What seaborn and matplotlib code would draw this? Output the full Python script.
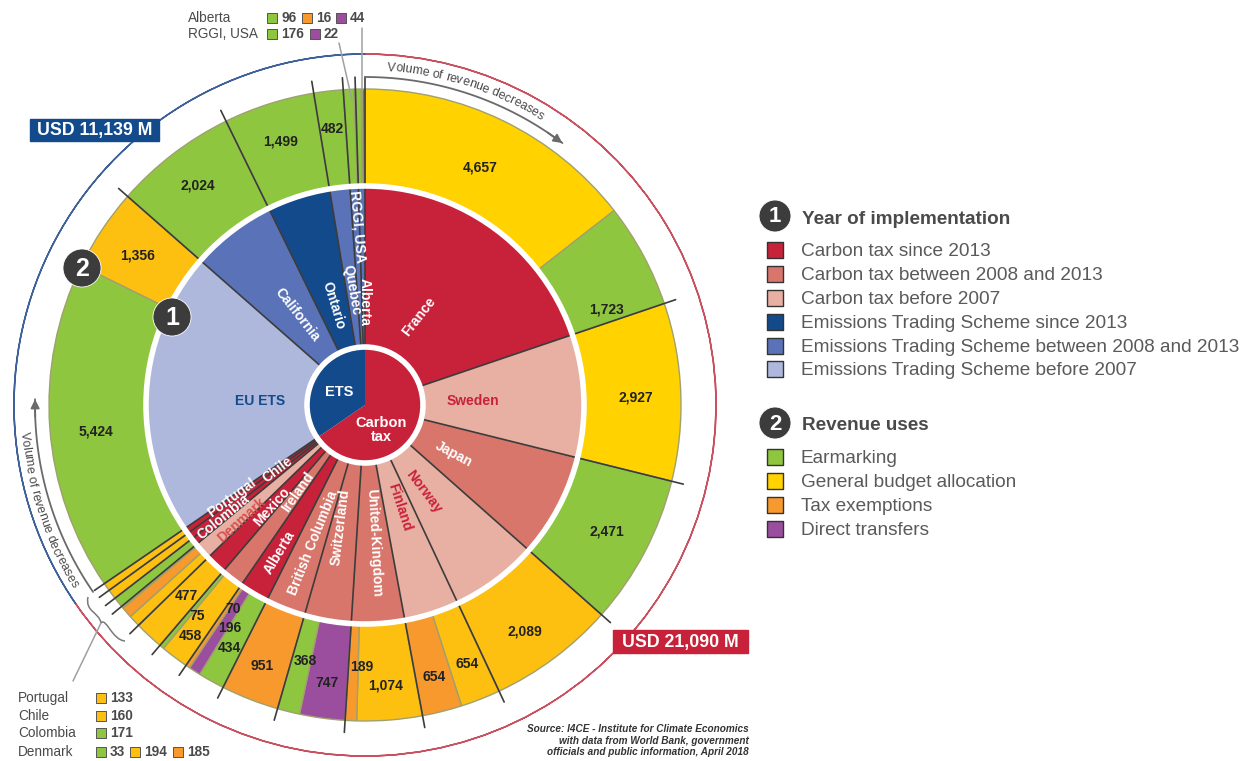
import numpy as np
import pandas as pd
import matplotlib
matplotlib.use('Agg')
import matplotlib.pyplot as plt
from matplotlib.font_manager import FontProperties
from matplotlib.patches import PathPatch, Rectangle
from matplotlib.path import Path
import seaborn as sns

# schemes, clockwise from the top of the circle
scheme_names = ['France', 'Sweden', 'Japan', 'Norway', 'Finland', 'United-Kingdom', 'Switzerland',
                'British Columbia', 'Alberta', 'Ireland', 'Mexico', 'Denmark', 'Colombia', 'Chile', 'Portugal',
                'EU ETS', 'California', 'Ontario', 'Quebec', 'RGGI, USA', 'Alberta']
scheme_years = ['tax13', 'tax07', 'tax08', 'tax07', 'tax07', 'tax08', 'tax08',
                'tax08', 'tax13', 'tax08', 'tax13', 'tax07', 'tax13', 'tax13', 'tax13',
                'ets07', 'ets08', 'ets13', 'ets08', 'ets08', 'ets08']
scheme_revenues = [[4657, 1723], [2927], [2471], [2089], [654, 654], [1074, 189], [747, 368],
                   [951], [434, 196, 70], [458, 75], [477], [194, 185, 33], [171], [160], [133],
                   [5424, 1356], [2024], [1499], [482], [176, 22], [96, 16, 44]]
scheme_uses = [['gold', 'earmark'], ['gold'], ['earmark'], ['budget'], ['budget', 'exempt'], ['budget', 'exempt'],
               ['transfer', 'earmark'], ['exempt'], ['earmark', 'transfer', 'exempt'], ['budget', 'earmark'],
               ['budget'], ['budget', 'exempt', 'earmark'], ['earmark'], ['budget'], ['budget'],
               ['earmark', 'budget'], ['earmark'], ['earmark'], ['earmark'], ['earmark', 'transfer'],
               ['earmark', 'exempt', 'transfer']]
totals_names = ['Carbon tax', 'ETS']
totals_values = [21090, 11139]

year_legend = ['Carbon tax since 2013', 'Carbon tax between 2008 and 2013', 'Carbon tax before 2007',
               'Emissions Trading Scheme since 2013', 'Emissions Trading Scheme between 2008 and 2013',
               'Emissions Trading Scheme before 2007']
use_legend = ['Earmarking', 'General budget allocation', 'Tax exemptions', 'Direct transfers']

year_colors = {'tax13': '#C8213A', 'tax08': '#D8766B', 'tax07': '#E8AFA3',
               'ets13': '#124A8C', 'ets08': '#5A72B8', 'ets07': '#AEB8DC'}
use_colors = {'earmark': '#8FC63F', 'gold': '#FFD200', 'budget': '#FDC010',
              'exempt': '#F7992D', 'transfer': '#9B4E9E'}

# text placement, in image pixels
inner_x = [419, 473, 454, 424, 400, 374, 340, 313, 280, 298, 272, 242, 223, 278, 232, 260, 297, 333, 352, 358, 365]
inner_y = [317, 401, 454, 492, 507, 543, 527, 543, 552, 492, 507, 520, 517, 470, 498, 401, 315, 305, 290, 227, 302]
inner_rot = [52, 0, -28, -53, -72, -87, 83, 68, 59, 55, 48, 42, 39, 37, 36, 0, -52, -73, -80, -85, -90]
inner_color = ['white', '#C8213A', 'white', '#C8213A', '#C8213A', 'white', 'white', 'white', 'white', 'white',
               'white', '#D8504F', 'white', 'white', 'white', '#124A8C', 'white', 'white', 'white', 'white', 'white']

value_labels = ['4,657', '1,723', '2,927', '2,471', '2,089', '654', '654', '1,074', '189', '747', '368', '951',
                '434', '196', '70', '458', '75', '477', '5,424', '1,356', '2,024', '1,499', '482']
value_x = [480, 606, 636, 607, 525, 467, 434, 386, 362, 327, 305, 262, 229, 230, 233, 190, 197, 186, 96, 138, 198, 281, 332]
value_y = [168, 309, 397, 531, 632, 664, 677, 685, 667, 683, 661, 666, 648, 628, 609, 636, 616, 596, 431, 255, 186, 141, 129]

sns.set_theme(style='white')
plt.rcParams['font.family'] = ['Liberation Sans', 'DejaVu Sans']

cx, cy = 365, 405
r_out, r_mid, r_hub = 316, 219, 58
ink = '#4A4A4A'

fig = plt.figure(figsize=(12.56, 7.61), dpi=100)
ax = fig.add_axes([0, 0, 1, 1])

flat_values = [v for group in scheme_revenues for v in group]
flat_uses = [u for group in scheme_uses for u in group]
scheme_totals = [sum(group) for group in scheme_revenues]
grand_total = sum(scheme_totals)

# y axis is flipped below, so counterclock=True comes out clockwise on screen
pie_args = dict(center=(cx, cy), startangle=-90, counterclock=True, frame=True)
ax.pie(flat_values, radius=r_out, colors=[use_colors[u] for u in flat_uses],
       wedgeprops=dict(width=r_out - r_mid, edgecolor='#A0A070', linewidth=1), **pie_args)
ax.pie(scheme_totals, radius=r_mid, colors=[year_colors[y] for y in scheme_years],
       wedgeprops=dict(width=r_mid - r_hub, edgecolor='none'), **pie_args)

# dark lines between schemes, running past the outer edge of the ring
edges = np.radians(np.cumsum([0] + scheme_totals[:-1]) / grand_total * 360)
for a in edges:
    ax.plot([cx + r_hub * np.sin(a), cx + 328 * np.sin(a)], [cy - r_hub * np.cos(a), cy - 328 * np.cos(a)],
            color='#3C3C3C', lw=1.2, zorder=3)

ax.pie([1], radius=r_mid, colors=['none'], wedgeprops=dict(edgecolor='white', linewidth=4, zorder=4), **pie_args)
ax.pie(totals_values, radius=r_hub, colors=['#C8213A', '#124A8C'],
       wedgeprops=dict(edgecolor='none', zorder=5), **pie_args)
ax.pie([1], radius=r_hub, colors=['none'], wedgeprops=dict(edgecolor='white', linewidth=4, zorder=6), **pie_args)

# thin circle around everything, red for the tax and blue for ETS
arcs, _ = ax.pie(totals_values, radius=351, colors=['none', 'none'],
                 wedgeprops=dict(width=0.01, linewidth=1.1), **pie_args)
arcs[0].set_edgecolor('#C8505F')
arcs[1].set_edgecolor('#3F6199')

for name, x, y, rot, col in zip(scheme_names, inner_x, inner_y, inner_rot, inner_color):
    ax.text(x, y, name, rotation=rot, color=col, fontsize=10, fontweight='bold', ha='center', va='center',
            rotation_mode='anchor', zorder=7)
for lab, x, y in zip(value_labels, value_x, value_y):
    ax.text(x, y, lab, color='#222222', fontsize=10, fontweight='bold', ha='center', va='center', zorder=7)

ax.text(339, 392, 'ETS', color='white', fontsize=10.5, fontweight='bold', ha='center', va='center', zorder=7)
ax.text(381, 430, 'Carbon\ntax', color='white', fontsize=10.5, fontweight='bold', ha='center', va='center',
        linespacing=1.0, zorder=7)

# totals tags
ax.add_patch(Rectangle((30, 119), 129, 22, color='#124A8C', zorder=8))
ax.text(94.5, 131, 'USD 11,139 M', color='white', fontsize=12.8, fontweight='bold', ha='center', va='center', zorder=9)
ax.add_patch(Rectangle((613, 630), 135, 23, color='#C8213A', zorder=8))
ax.text(680.5, 642.5, 'USD 21,090 M', color='white', fontsize=12.8, fontweight='bold', ha='center', va='center', zorder=9)


def curved_text(text, r, start, sign, size):
    # one glyph at a time along the circle, sign=1 reads clockwise
    prop = FontProperties(family='Liberation Sans', size=size)
    rend = fig.canvas.get_renderer()
    for i, ch in enumerate(text):
        w0 = rend.get_text_width_height_descent(text[:i], prop, False)[0] if i else 0
        w1 = rend.get_text_width_height_descent(ch, prop, False)[0]
        theta = start + sign * np.degrees((w0 + w1 / 2) / r)
        a = np.radians(theta)
        rot = -theta if sign > 0 else 180 - theta
        ax.text(cx + r * np.sin(a), cy - r * np.cos(a), ch, rotation=rot, color=ink, fontproperties=prop,
                ha='center', va='center', rotation_mode='anchor', zorder=7)


def arc_arrow(r, t0, t1):
    a = np.radians(np.linspace(t0, t1, 60))
    xs, ys = cx + r * np.sin(a), cy - r * np.cos(a)
    ax.plot(xs, ys, color='#6A6A6A', lw=1.3, zorder=3)
    ax.annotate('', xy=(xs[-1], ys[-1]), xytext=(xs[-6], ys[-6]),
                arrowprops=dict(arrowstyle='-|>', color='#6A6A6A', lw=1.3, mutation_scale=13, shrinkA=0, shrinkB=0))


curved_text('Volume of revenue decreases', 338, 3.8, 1, 8.9)
arc_arrow(328, 0, 37)
curved_text('Volume of revenue decreases', 342, 265.5, -1, 8.9)
arc_arrow(330, 235.5, 271)

# brace and leader for the four smallest schemes
brace = Path([(88, 597), (85, 612), (99, 612), (101, 623), (106, 617), (112, 640), (125, 641)],
             [Path.MOVETO, Path.CURVE4, Path.CURVE4, Path.CURVE4, Path.CURVE4, Path.CURVE4, Path.CURVE4])
ax.add_patch(PathPatch(brace, fc='none', ec='#7A7A7A', lw=1.1, zorder=3))
ax.plot([101, 73], [623, 681], color='#A0A0A0', lw=1.1, zorder=3)
ax.plot([339, 352], [43, 100], color='#A0A0A0', lw=1.1, zorder=4)
ax.plot([362, 362], [28, 90], color='#A0A0A0', lw=1.1, zorder=4)

# small keys for the slices too thin to carry a number
small_rows = ['Alberta', 'RGGI, USA', 'Portugal', 'Chile', 'Colombia', 'Denmark']
small_row_x = [188, 188, 18, 18, 18, 18]
small_row_y = [18, 34, 698, 716, 733, 752]
small_key_x = [272, 307, 341, 272, 315, 101, 101, 101, 101, 135, 178]
small_key_y = [18, 18, 18, 34, 34, 698, 716, 733, 752, 752, 752]
small_key_use = ['earmark', 'exempt', 'transfer', 'earmark', 'transfer', 'budget', 'budget', 'earmark',
                 'earmark', 'budget', 'exempt']
small_key_text = ['96', '16', '44', '176', '22', '133', '160', '171', '33', '194', '185']

for name, x, y in zip(small_rows, small_row_x, small_row_y):
    ax.text(x, y, name, color=ink, fontsize=9.8, fontweight='medium', va='center')
small_keys = pd.DataFrame({'x': small_key_x, 'y': small_key_y, 'use': small_key_use})
sns.scatterplot(data=small_keys, x='x', y='y', hue='use', palette=use_colors, marker='s', s=52, edgecolor='#555555',
                linewidth=0.7, legend=False, ax=ax, zorder=7)
for x, y, lab in zip(small_key_x, small_key_y, small_key_text):
    ax.text(x + 9, y, lab, color=ink, fontsize=9.8, fontweight='bold', va='center')

# main legend on the right
legend_y = [250, 274, 298, 322, 346, 369, 457, 481, 505, 529]
legend_labels = year_legend + use_legend
legend_colors = ['#C8213A', '#D8766B', '#E8AFA3', '#124A8C', '#5A72B8', '#AEB8DC', '#8FC63F', '#FFD200', '#F7992D', '#9B4E9E']
keys = pd.DataFrame({'x': [775] * len(legend_y), 'y': legend_y, 'label': legend_labels})
sns.scatterplot(data=keys, x='x', y='y', hue='label', palette=legend_colors, marker='s', s=140, edgecolor='#333333',
                linewidth=1, legend=False, ax=ax, zorder=7)
for y, lab in zip(legend_y, legend_labels):
    ax.text(801, y + 1.5, lab, color='#5A5A5A', fontsize=13.7, va='center')
ax.text(802, 219.5, 'Year of implementation', color='#4A4A4A', fontsize=13.6, fontweight='bold', va='center')
ax.text(802, 425.5, 'Revenue uses', color='#4A4A4A', fontsize=13.6, fontweight='bold', va='center')

# numbered badges
badge_x = [82, 172, 775, 775]
badge_y = [268, 317, 216, 423]
badge_size = [750, 750, 530, 530]
badge_text = ['2', '1', '1', '2']
ax.scatter(badge_x, badge_y, s=badge_size, color='#3C3C3C', edgecolor='white', linewidth=0.6, zorder=10)
for x, y, lab, s in zip(badge_x, badge_y, badge_text, badge_size):
    ax.text(x, y + 1, lab, color='white', fontsize=18 if s > 600 else 16, fontweight='bold', ha='center', va='center', zorder=11)

source_lines = ['Source: I4CE - Institute for Climate Economics', 'with data from World Bank, government',
                'officials and public information, April 2018']
source_y = [729, 741, 752]
for y, line in zip(source_y, source_lines):
    ax.text(749, y, line, color='#333333', fontsize=7.2, fontstyle='italic', fontweight='bold', ha='right', va='center')

ax.set_xlim(0, 1256)
ax.set_ylim(761, 0)
ax.set_aspect('equal')
ax.axis('off')
fig.savefig('out.png', dpi=100, facecolor='white')
